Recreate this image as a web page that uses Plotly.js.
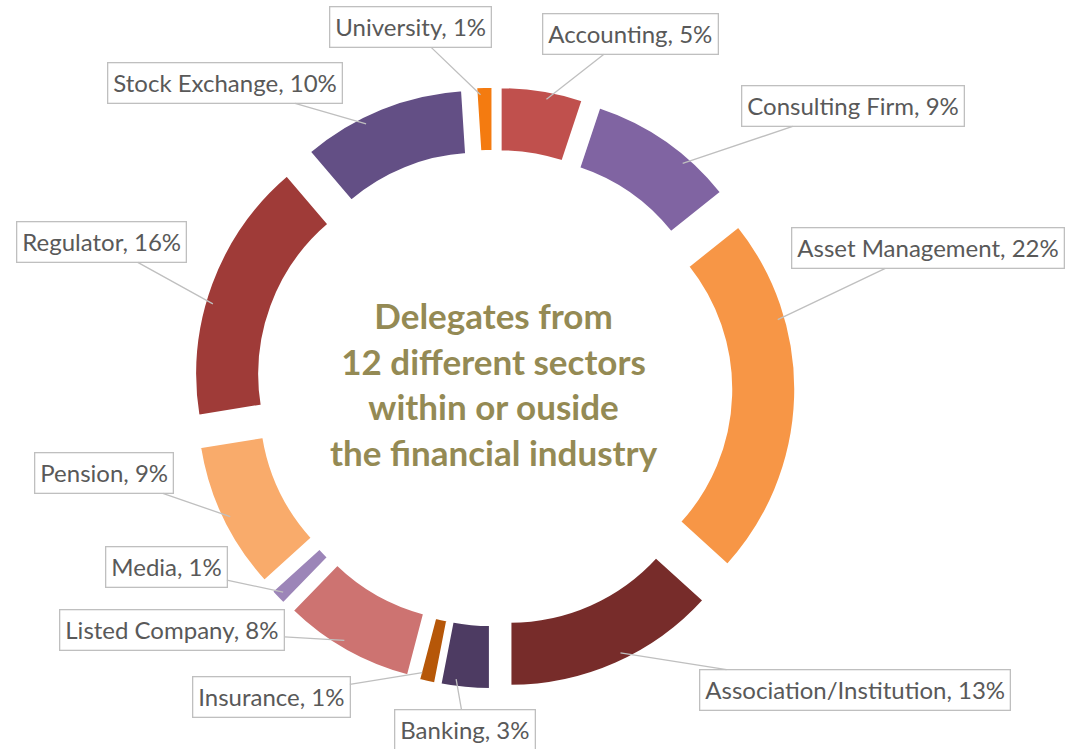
<!DOCTYPE html>
<html>
<head>
<meta charset="utf-8">
<script src="https://cdn.plot.ly/plotly-3.0.1.min.js"></script>
<style>html,body{margin:0;padding:0;background:#fff;}#chart{width:1075px;height:749px;}</style>
</head>
<body>
<div id="chart"></div>
<script>
// ---- data ----
const sectors = ["Accounting", "Consulting Firm", "Asset Management", "Association/Institution",
  "Banking", "Insurance", "Listed Company", "Media", "Pension", "Regulator", "Stock Exchange", "University"];
const shares = [5, 9, 22, 13, 3, 1, 8, 1, 9, 16, 10, 1];
const centerTitle = ["Delegates from", "12 different sectors", "within or ouside", "the financial industry"];

// ---- styles / layout ----
const colors = ["#C0504D", "#8064A2", "#F79646", "#772C2A", "#4D3B62", "#B65708",
  "#CD7371", "#9C85B8", "#F9AB6B", "#9F3B38", "#634F85", "#F47B10"];
// label box centres (pixels) and where along each slice (0..1) the leader line attaches
const labelCenters = [[630, 34], [853, 106], [928, 248], [855, 690], [465, 730], [271, 697],
  [172, 630], [166, 567], [104, 473], [101, 242], [225, 83], [410, 27]];
const anchorAlong = [0.57, 0.68, 0.28, 0.46, 0.7, 0.9, 0.55, 0.5, 0.49, 0.43, 0.38, 0.25];

const W = 1075, H = 749;
const cx = 494, cy = 388;
const explode = 0.153;          // slices pulled out from the centre (doughnut explosion)
const outerR = 301.5;           // outer extent including explosion
const baseR = outerR / (1 + explode);
const innerR = 197;
const border = 2.5;
const pullPx = baseR * explode;
const anchorR = baseR - 8;

const total = shares.reduce((a, b) => a + b, 0);
let cum = 0;
const annotations = [];
shares.forEach((v, i) => {
  const a0 = cum / total * 2 * Math.PI;
  const a1 = (cum + v) / total * 2 * Math.PI;
  cum += v;
  const mid = (a0 + a1) / 2;
  const at = a0 + (a1 - a0) * anchorAlong[i];
  const scx = cx + pullPx * Math.sin(mid);
  const scy = cy - pullPx * Math.cos(mid);
  const px = scx + anchorR * Math.sin(at);
  const py = scy - anchorR * Math.cos(at);
  annotations.push({
    x: px / W, y: (H - py) / H, xref: "paper", yref: "paper",
    text: sectors[i] + ", " + v + "%",
    showarrow: true, arrowhead: 0, arrowwidth: 1.3, arrowcolor: "#BFBFBF",
    ax: labelCenters[i][0] - px, ay: labelCenters[i][1] - py, standoff: 0,
    bordercolor: "#BFBFBF", borderwidth: 1.3, borderpad: 5, bgcolor: "#FFFFFF",
    font: {family: "Lato, 'Open Sans', sans-serif", size: 24, color: "#595959"}
  });
});
annotations.push({
  x: cx / W, y: (H - cy + 4) / H, xref: "paper", yref: "paper", showarrow: false,
  text: centerTitle.map(s => "<b>" + s + "</b>").join("<br>"),
  font: {family: "Lato, 'Open Sans', sans-serif", size: 35, color: "#948A54"},
  align: "center"
});

const trace = {
  type: "pie",
  labels: sectors,
  values: shares,
  sort: false,
  direction: "clockwise",
  rotation: 0,
  hole: innerR / baseR,
  pull: explode,
  marker: {colors: colors, line: {color: "#FFFFFF", width: border}},
  textinfo: "none",
  hoverinfo: "label+percent",
  domain: {x: [(cx - outerR) / W, (cx + outerR) / W], y: [(H - cy - outerR) / H, (H - cy + outerR) / H]}
};

const layout = {
  width: W, height: H,
  margin: {l: 0, r: 0, t: 0, b: 0},
  showlegend: false,
  paper_bgcolor: "#FFFFFF",
  annotations: annotations
};

Plotly.newPlot("chart", [trace], layout, {displayModeBar: false, staticPlot: true});
</script>
</body>
</html>
